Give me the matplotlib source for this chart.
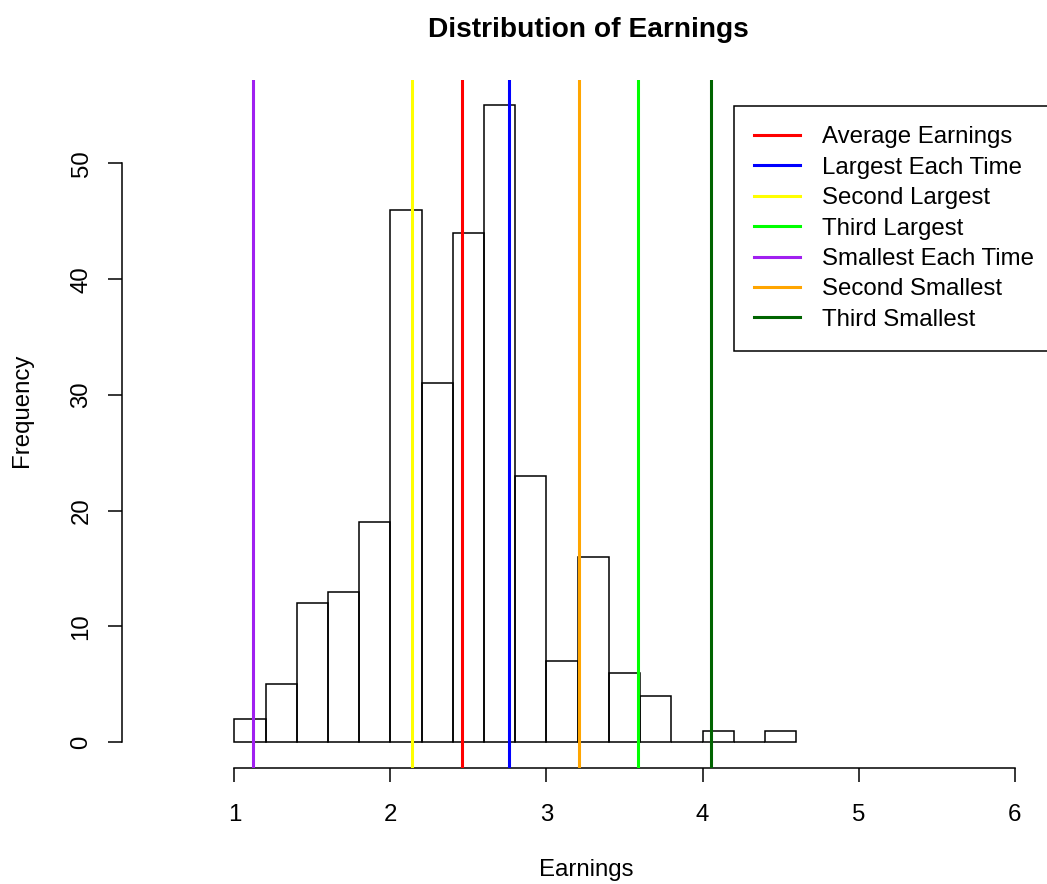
import matplotlib
matplotlib.use('Agg')
import matplotlib.pyplot as plt

plt.rcParams['font.family'] = ['Liberation Sans', 'DejaVu Sans']

# histogram counts, bins of width 0.2 starting at 1.0
bin_left = [1.0, 1.2, 1.4, 1.6, 1.8, 2.0, 2.2, 2.4, 2.6, 2.8,
            3.0, 3.2, 3.4, 3.6, 3.8, 4.0, 4.2, 4.4]
counts = [2, 5, 12, 13, 19, 46, 31, 44, 55, 23,
          7, 16, 6, 4, 0, 1, 0, 1]
bin_width = 0.2

# reference lines
line_names = ['Average Earnings', 'Largest Each Time', 'Second Largest',
              'Third Largest', 'Smallest Each Time', 'Second Smallest',
              'Third Smallest']
line_values = [2.457, 2.763, 2.138, 3.585, 1.119, 3.207, 4.053]
line_colors = ['#FF0000', '#0000FF', '#FFFF00', '#00FF00', '#A020F0',
               '#FFA500', '#006400']

x_ticks = [1, 2, 3, 4, 5, 6]
y_ticks = [0, 10, 20, 30, 40, 50]

W, H = 1047, 884
fig = plt.figure(figsize=(W / 100, H / 100), dpi=100)
ax = fig.add_axes([122 / W, 1 - 767.7 / H, (1049 - 122) / W, (767.7 - 80) / H])

ax.bar(bin_left, counts, width=bin_width, align='edge', fill=False,
       edgecolor='black', linewidth=1.1, zorder=2)

for name, val, col in zip(line_names, line_values, line_colors):
    ax.axvline(val, color=col, linewidth=2.2, label=name, zorder=3)

ax.set_xlim(0.28, 6.22)
ax.set_ylim(-2.2, 57.2)

for s in ['top', 'right']:
    ax.spines[s].set_visible(False)
ax.spines['bottom'].set_bounds(1, 6)
ax.spines['left'].set_bounds(0, 50)
ax.spines['bottom'].set_linewidth(1.1)
ax.spines['left'].set_linewidth(1.1)

ax.set_xticks(x_ticks)
ax.set_yticks(y_ticks)
ax.tick_params(axis='both', direction='out', length=10.4, width=1.1,
               labelsize=17.3)
ax.tick_params(axis='x', pad=15.8)
ax.tick_params(axis='y', pad=10.8, labelrotation=90)
for lbl in ax.get_yticklabels():
    lbl.set_va('center')

leg = ax.legend(loc='upper left', bbox_to_anchor=(734 / W, 1 - 106 / H),
                bbox_transform=fig.transFigure, fontsize=17.3,
                frameon=True, fancybox=False, edgecolor='black',
                framealpha=1, borderpad=0.85, handlelength=1.9,
                handletextpad=0.9, labelspacing=0.35, borderaxespad=0)
leg.get_frame().set_linewidth(1.1)

fig.text(588 / W, 1 - 36.7 / H, 'Distribution of Earnings', ha='center',
         va='baseline', fontsize=20.25, fontweight='bold')
fig.text(586 / W, 1 - 870 / H, 'Earnings', ha='center', va='center',
         fontsize=17.3)
fig.text(22 / W, 1 - 410 / H, 'Frequency', ha='center', va='center',
         rotation=90, fontsize=17.3)

fig.savefig('out.png', dpi=100)
